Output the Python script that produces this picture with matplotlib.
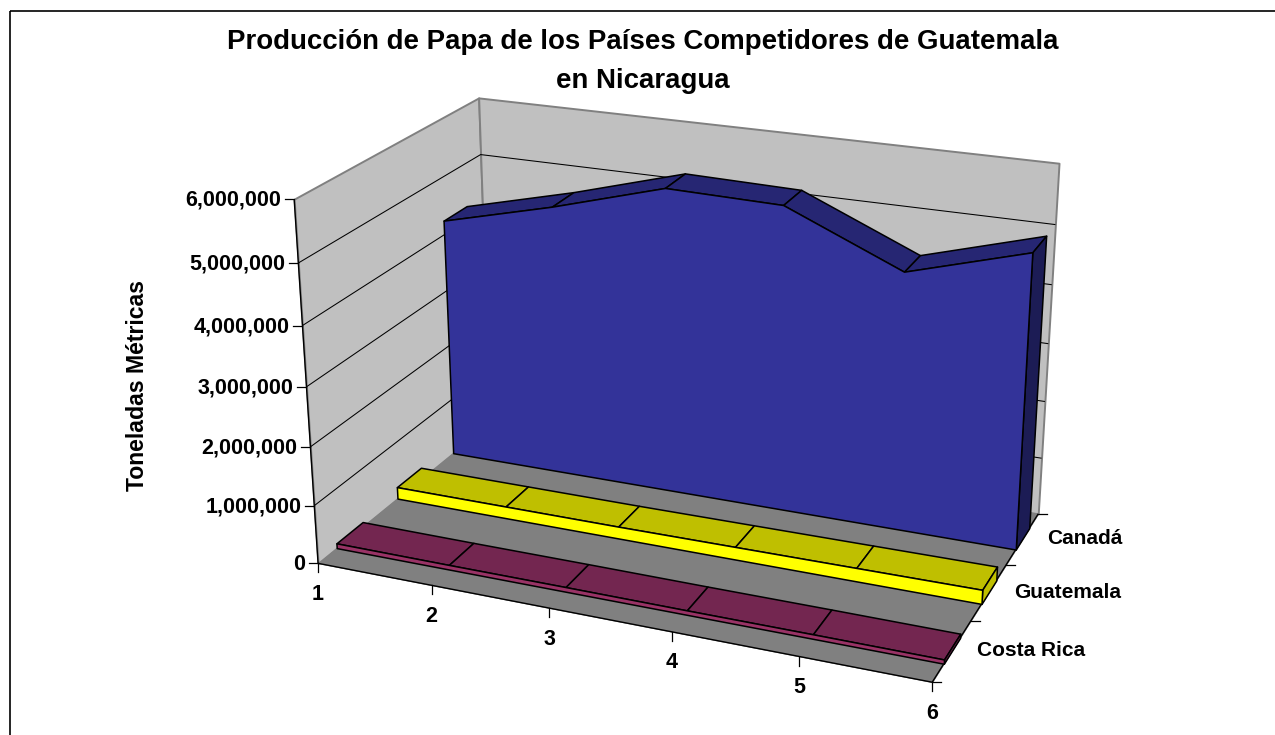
import numpy as np
import matplotlib
matplotlib.use("Agg")
import matplotlib.pyplot as plt
from matplotlib.lines import Line2D
from matplotlib.patches import Rectangle
from matplotlib.transforms import Affine2D
from mpl_toolkits.mplot3d.art3d import Poly3DCollection, Line3DCollection

plt.rcParams['font.family'] = ['Liberation Sans', 'DejaVu Sans']
plt.rcParams['font.weight'] = 'bold'

# data
years = [1, 2, 3, 4, 5, 6]
canada = [4250000, 4740000, 5300000, 5260000, 4420000, 5000000]
guatemala = [210000, 210000, 210000, 220000, 230000, 240000]
costa_rica = [85000, 80000, 80000, 75000, 75000, 70000]
paises = ['Costa Rica', 'Guatemala', 'Canadá']
valor_ticks = [0, 1000000, 2000000, 3000000, 4000000, 5000000, 6000000]
titulo = 'Producción de Papa de los Países Competidores de Guatemala\nen Nicaragua'
eje_y = 'Toneladas Métricas'

W, H = 1275, 735
ZMAX = 6000000.0

# box corners (category, depth, value in millions) and where they land on the page
esquinas = np.array([
    [1, 0, 0], [6, 0, 0], [6, 3, 0], [1, 3, 0],
    [1, 0, 6], [1, 3, 6], [6, 3, 6],
    [1, 0, 1], [1, 0, 2],
    [2, 0, 0], [3, 0, 0],
    [6, 1, 0], [6, 2, 0],
], dtype=float)
pagina = np.array([
    [317.7, 562.7], [931.7, 682.3], [1038.3, 513.3], [490.0, 423.0],
    [294.7, 198.0], [478.3, 98.3], [1059.0, 163.3],
    [314.3, 506.0], [310.0, 448.3],
    [432.3, 585.0], [549.3, 608.0],
    [970.7, 621.0], [1006.7, 565.0],
])


def camara(obj, img):
    # direct linear transform, gives a 3x4 camera
    filas = []
    for (X, Y, Z), (u, v) in zip(obj, img):
        filas.append([X, Y, Z, 1, 0, 0, 0, 0, -u*X, -u*Y, -u*Z, -u])
        filas.append([0, 0, 0, 0, X, Y, Z, 1, -v*X, -v*Y, -v*Z, -v])
    _, _, vt = np.linalg.svd(np.array(filas))
    return vt[-1].reshape(3, 4)


P = camara(esquinas, pagina)
P = P @ np.diag([1, 1, 1e-6, 1])     # value axis in plain units
centro = np.linalg.svd(P)[2][-1]
M = np.vstack([P[0], P[1], centro, P[2]])


def a_pagina(x, y, z):
    p = P @ np.array([x, y, z, 1.0])
    return p[0]/p[2], p[1]/p[2]


fig = plt.figure(figsize=(W/100, H/100), dpi=100, facecolor='white')
ax = fig.add_axes([0, 0, 1, 1], projection='3d', computed_zorder=False)
ax.apply_aspect = lambda position=None: None
ax.get_proj = lambda: M
ax.viewLim.intervalx = (0, W)
ax.viewLim.intervaly = (H, 0)
ax.set_axis_off()

px = Affine2D().scale(1/W, -1/H).translate(0, 1) + fig.transFigure


def cara(verts, color, edge='black', lw=1.1, zo=5):
    pc = Poly3DCollection([verts], facecolors=color, edgecolors=edge, linewidths=lw, zorder=zo)
    ax.add_collection3d(pc)


def linea(puntos, color='black', lw=0.75, zo=3):
    ax.add_collection3d(Line3DCollection([puntos], colors=color, linewidths=lw, zorder=zo))


x0, x1 = years[0], years[-1]

# walls and floor
cara([(x0, 0, 0), (x0, 3, 0), (x0, 3, ZMAX), (x0, 0, ZMAX)], '#C0C0C0', '#808080', 1.4, 1)
cara([(x0, 3, 0), (x1, 3, 0), (x1, 3, ZMAX), (x0, 3, ZMAX)], '#C0C0C0', '#808080', 1.4, 1)
cara([(x0, 0, 0), (x1, 0, 0), (x1, 3, 0), (x0, 3, 0)], '#808080', '#808080', 0.5, 1)

# gridlines on both walls
for v in valor_ticks[1:-1]:
    linea([(x0, 0, v), (x0, 3, v), (x1, 3, v)])

# axis lines
linea([(x0, 0, 0), (x0, 0, ZMAX)], lw=1.0)
linea([(x0, 0, 0), (x1, 0, 0), (x1, 3, 0)], lw=1.0)


def area(fila, valores, frente, tapa, lado):
    y0, y1 = fila + 0.29, fila + 0.71
    zo = 10 + (2 - fila)*3
    # top of the band, segment by segment
    for i in range(len(years) - 1):
        cara([(years[i], y0, valores[i]), (years[i+1], y0, valores[i+1]),
              (years[i+1], y1, valores[i+1]), (years[i], y1, valores[i])], tapa, zo=zo)
    # end cap
    cara([(x1, y0, 0), (x1, y1, 0), (x1, y1, valores[-1]), (x1, y0, valores[-1])], lado, zo=zo)
    # front face
    vs = [(x0, y0, 0)] + [(a, y0, b) for a, b in zip(years, valores)] + [(x1, y0, 0)]
    cara(vs, frente, zo=zo + 1)


area(2, canada, '#333399', '#262673', '#1C1C55')
area(1, guatemala, '#FFFF00', '#BFBF00', '#BFBF00')
area(0, costa_rica, '#993366', '#732650', '#732650')

# ticks and labels, offset on the page from the projected axis points
for v in valor_ticks:
    u, w = a_pagina(x0, 0, v)
    fig.add_artist(Line2D([u - 9, u], [w, w], color='black', lw=0.9, transform=px))
    fig.text(u - 13, w + 1, f'{v:,}', ha='right', va='center', fontsize=15.5, transform=px)

for a in years:
    u, w = a_pagina(a, 0, 0)
    fig.add_artist(Line2D([u, u], [w, w + 9], color='black', lw=0.9, transform=px))
    fig.text(u, w + 31, str(a), ha='center', va='center', fontsize=15.5, transform=px)

for i in range(4):
    u, w = a_pagina(x1, i, 0)
    fig.add_artist(Line2D([u, u + 9], [w, w], color='black', lw=0.9, transform=px))

for i, nombre in enumerate(paises):
    u, w = a_pagina(x1, i + 0.5, 0)
    fig.text(u + 25, w, nombre, ha='left', va='center', fontsize=15, transform=px)

fig.text(137, 386, eje_y, rotation=90, ha='center', va='center', fontsize=16.6, transform=px)
fig.text(643, 61.5, titulo, ha='center', va='center', fontsize=19.9, linespacing=1.62, transform=px)

# chart frame, runs off the top right of the page
fig.add_artist(Rectangle((9.5, 10.5), 1400, 900, fill=False, edgecolor='black', lw=1.2, transform=px))

fig.savefig('out.png', dpi=100)
